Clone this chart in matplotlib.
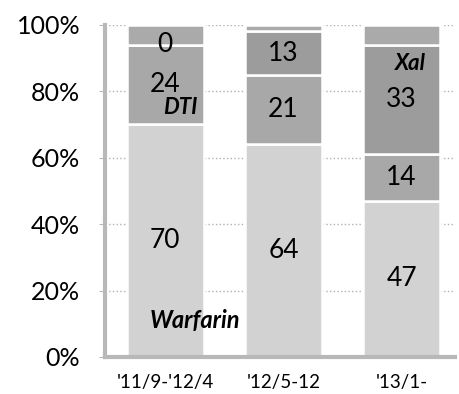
import numpy as np
import matplotlib.pyplot as plt

# Share of anticoagulant use per period (%)
periods = ["'11/9-'12/4", "'12/5-12", "'13/1-"]
warfarin = [70, 64, 47]
dti = [24, 21, 14]
xal = [0, 13, 33]
other = [6, 2, 6]

plt.rcParams['font.family'] = ['Lato', 'DejaVu Sans']

fig = plt.figure(figsize=(4.59, 3.94), dpi=100)
ax = fig.add_axes([0.229, 0.094, 0.762, 0.843])

x = np.arange(len(periods))
w = 0.65
edge = dict(edgecolor='white', linewidth=1.8)

ax.bar(x, warfarin, w, color='#d2d2d2', **edge)
ax.bar(x, dti, w, bottom=warfarin, color='#a8a8a8', **edge)
base2 = np.array(warfarin) + np.array(dti)
ax.bar(x, xal, w, bottom=base2, color='#9c9c9c', **edge)
base3 = base2 + np.array(xal)
ax.bar(x, other, w, bottom=base3, color='#aaaaaa', **edge)

# value labels in the middle of each segment
for i in range(len(periods)):
    ax.text(x[i], warfarin[i] / 2, str(warfarin[i]), ha='center', va='center', fontsize=19)
    ax.text(x[i], warfarin[i] + dti[i] / 2, str(dti[i]), ha='center', va='center', fontsize=19)
    ax.text(x[i], base2[i] + xal[i] / 2, str(xal[i]), ha='center', va='center', fontsize=19)

# drug names
ax.text(0.25, 11, 'Warfarin', ha='center', va='center', fontsize=17,
        fontweight='bold', style='italic')
ax.text(0.13, 75, 'DTI', ha='center', va='center', fontsize=16,
        fontweight='bold', style='italic')
ax.text(2.07, 88.5, 'Xal', ha='center', va='center', fontsize=16,
        fontweight='bold', style='italic')

ax.set_ylim(0, 100)
ax.set_xlim(-0.51, 2.45)
ax.set_yticks(range(0, 101, 20))
ax.set_yticklabels([f'{v}%' for v in range(0, 101, 20)], fontsize=18)
ax.set_xticks(x)
ax.set_xticklabels(periods, fontsize=13.5)

ax.yaxis.grid(True, linestyle=':', color='#b0b0b0', linewidth=1)
ax.set_axisbelow(True)
for s in ['top', 'right']:
    ax.spines[s].set_visible(False)
for s in ['left', 'bottom']:
    ax.spines[s].set_color('#b8b8b8')
    ax.spines[s].set_linewidth(3)
ax.tick_params(axis='y', length=4, color='#b8b8b8', pad=14)
ax.tick_params(axis='x', length=0, pad=12)

fig.savefig('out.png', dpi=100)
